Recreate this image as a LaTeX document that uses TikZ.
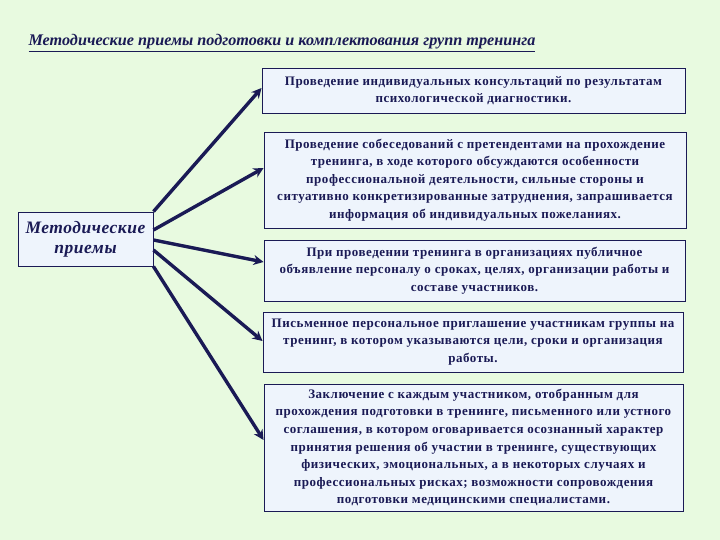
\documentclass[tikz,border=0pt]{standalone}
\usepackage{fontspec}
\setmainfont{Liberation Serif}
\usetikzlibrary{arrows.meta}
\definecolor{bg}{HTML}{E8FAE0}
\definecolor{boxfill}{HTML}{EEF4FC}
\definecolor{navy}{HTML}{1A1A55}
\tikzset{
  txtbox/.style={draw=navy, fill=boxfill, line width=0.9pt, align=center, inner sep=0pt,
    text=navy, font=\bfseries\fontsize{13}{17.6}\selectfont\addfontfeature{LetterSpace=4}},
  arr/.style={draw=navy, line width=3.4pt, -{Stealth[length=10pt,width=10pt]}}
}
\begin{document}
\begin{tikzpicture}[x=1pt,y=-1pt]
\fill[bg] (0,0) rectangle (720,540);
\useasboundingbox (0,0) rectangle (720,540);
\node[anchor=base west, text=navy, font=\bfseries\itshape\fontsize{16.2}{19}\selectfont] (title) at (25,46)
  {\underline{Методические приемы подготовки и комплектования групп тренинга}};
\node[txtbox, minimum width=135pt, minimum height=54pt, font=\bfseries\itshape\fontsize{17.5}{20}\selectfont\addfontfeature{LetterSpace=3}] (L) at (85.5,239)
  {Методические\\приемы};
\node[txtbox, minimum width=423pt, minimum height=45pt] (b1) at (473.5,90.5)
  {Проведение индивидуальных консультаций по результатам\\психологической диагностики.};
\node[txtbox, minimum width=422pt, minimum height=96pt] (b2) at (475,180)
  {Проведение собеседований с претендентами на прохождение\\тренинга, в ходе которого обсуждаются особенности\\профессиональной деятельности, сильные стороны и\\ситуативно конкретизированные затруднения, запрашивается\\информация об индивидуальных пожеланиях.};
\node[txtbox, minimum width=421pt, minimum height=61pt] (b3) at (474.5,270.5)
  {При проведении тренинга в организациях публичное\\объявление персоналу о сроках, целях, организации работы и\\составе участников.};
\node[txtbox, minimum width=420pt, minimum height=60pt] (b4) at (473,342)
  {Письменное персональное приглашение участникам группы на\\тренинг, в котором указываются цели, сроки и организация\\работы.};
\node[txtbox, minimum width=419pt, minimum height=127pt] (b5) at (473.5,447.5)
  {Заключение с каждым участником, отобранным для\\прохождения подготовки в тренинге, письменного или устного\\соглашения, в котором оговаривается осознанный характер\\принятия решения об участии в тренинге, существующих\\физических, эмоциональных, а в некоторых случаях и\\профессиональных рисках; возможности сопровождения\\подготовки медицинскими специалистами.};
\draw[arr] (L.north east) -- ([yshift=2.5pt]b1.west);
\draw[arr] ([yshift=9pt]L.east) -- ([yshift=12pt]b2.west);
\draw[arr] ([yshift=-1pt]L.east) -- ([yshift=8.5pt]b3.west);
\draw[arr] ([yshift=-11pt]L.east) -- ([yshift=1pt]b4.west);
\draw[arr] (L.south east) -- ([yshift=7.5pt]b5.west);
\end{tikzpicture}
\end{document}
